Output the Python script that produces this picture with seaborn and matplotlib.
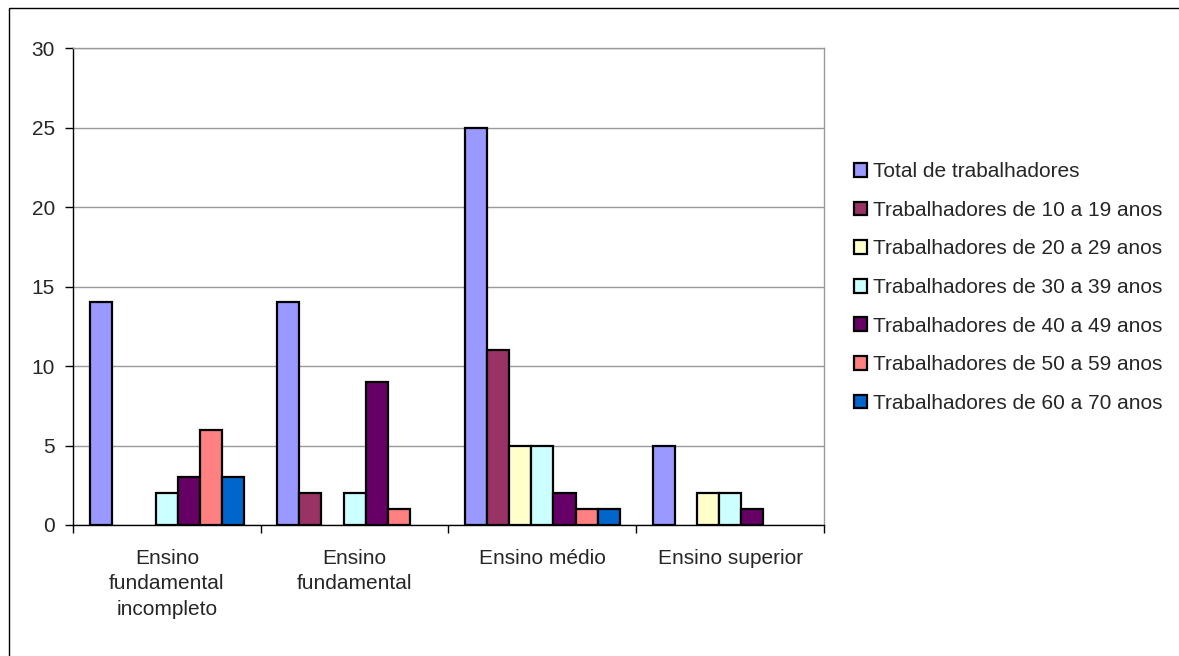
import numpy as np
import pandas as pd
import matplotlib
matplotlib.use("Agg")
import matplotlib.pyplot as plt
from matplotlib.patches import Rectangle
import seaborn as sns

# --- Data ---
categories = [
    "Ensino\nfundamental\nincompleto",
    "Ensino\nfundamental",
    "Ensino médio",
    "Ensino superior",
]
series_names = [
    "Total de trabalhadores",
    "Trabalhadores de 10 a 19 anos",
    "Trabalhadores de 20 a 29 anos",
    "Trabalhadores de 30 a 39 anos",
    "Trabalhadores de 40 a 49 anos",
    "Trabalhadores de 50 a 59 anos",
    "Trabalhadores de 60 a 70 anos",
]
total = [14, 14, 25, 5]
age_10_19 = [0, 2, 11, 0]
age_20_29 = [0, 0, 5, 2]
age_30_39 = [2, 2, 5, 2]
age_40_49 = [3, 9, 2, 1]
age_50_59 = [6, 1, 1, 0]
age_60_70 = [3, 0, 1, 0]

# Excel 2003 style palette
colors = ["#9999FF", "#993366", "#FFFFCC", "#CCFFFF", "#660066", "#FF8080", "#0066CC"]


def build_frame():
    """Long-format table for seaborn."""
    series_values = [total, age_10_19, age_20_29, age_30_39, age_40_49, age_50_59, age_60_70]
    rows = []
    for name, values in zip(series_names, series_values):
        for cat, v in zip(categories, values):
            rows.append({"escolaridade": cat, "serie": name, "valor": v})
    df = pd.DataFrame(rows)
    # zero bars are not drawn in the original (no edge line on the axis)
    df["valor"] = df["valor"].replace(0, np.nan)
    return df


def main():
    sns.set_theme(style="white")
    plt.rcParams["font.family"] = ["Liberation Sans", "DejaVu Sans"]

    df = build_frame()

    fig = plt.figure(figsize=(11.79, 6.56), dpi=100)
    ax = fig.add_axes([0.0619, 0.1997, 0.6370, 0.7271])

    sns.barplot(
        data=df,
        x="escolaridade",
        y="valor",
        hue="serie",
        hue_order=series_names,
        order=categories,
        palette=colors,
        width=0.824,
        gap=0,
        edgecolor="black",
        linewidth=1.6,
        saturation=1,
        errorbar=None,
        ax=ax,
        zorder=3,
    )

    # axes & grid
    ax.set_ylim(0, 30)
    ax.set_yticks(range(0, 31, 5))
    ax.set_xlim(-0.5, len(categories) - 0.5)
    ax.yaxis.grid(True, color="#999999", linewidth=1)
    ax.set_axisbelow(True)
    ax.set_xlabel("")
    ax.set_ylabel("")

    for side in ["left", "bottom"]:
        ax.spines[side].set_color("black")
        ax.spines[side].set_linewidth(1)
    for side in ["top", "right"]:
        ax.spines[side].set_color("#999999")
        ax.spines[side].set_linewidth(1)

    # category ticks sit on the boundaries between groups (Excel style)
    ax.set_xticks(np.arange(-0.5, len(categories), 1.0), minor=False)
    ax.set_xticklabels([])
    ax.set_xticks(range(len(categories)), minor=True)
    ax.set_xticklabels(categories, minor=True, fontsize=15, linespacing=1.45, va="top")
    ax.tick_params(axis="x", which="major", direction="out", length=6, width=1, color="black", bottom=True)
    ax.tick_params(axis="x", which="minor", length=0, pad=17)
    ax.tick_params(axis="y", direction="out", length=6, width=1, color="black", left=True, labelsize=15, pad=7)

    # legend without frame, to the right of the plot area
    handles, labels = ax.get_legend_handles_labels()
    ax.legend(
        handles,
        labels,
        loc="center left",
        bbox_to_anchor=(0.717, 0.5617),
        bbox_transform=fig.transFigure,
        frameon=False,
        fontsize=15,
        handlelength=0.63,
        handleheight=0.63,
        handletextpad=0.3,
        labelspacing=0.94,
        borderaxespad=0,
    )

    # outer chart border (only left and top edges fall inside the image)
    fig.patches.append(
        Rectangle((9.5 / 1179, -0.05), 1.2, 0.05 + 647.5 / 656, transform=fig.transFigure,
                  fill=False, edgecolor="black", linewidth=1)
    )

    fig.savefig("out.png", dpi=100)
    plt.close(fig)


if __name__ == "__main__":
    main()
